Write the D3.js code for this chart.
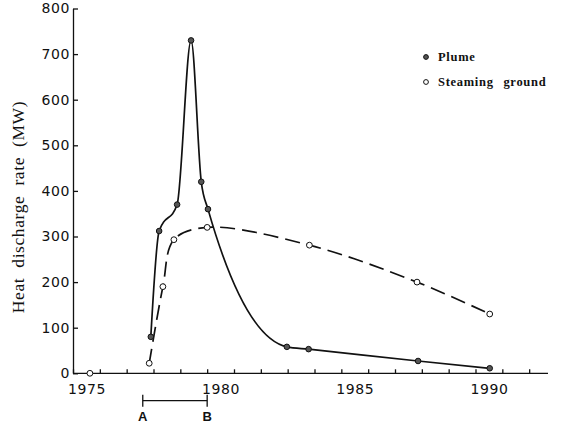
<!DOCTYPE html>
<html>
<head>
<meta charset="utf-8">
<script src="https://cdn.jsdelivr.net/npm/d3@7"></script>
<style>
  body { margin: 0; background: #fff; }
  svg { display: block; }
</style>
</head>
<body>
<div id="chart"></div>
<script>
// values
const plumeYears  = [1977.90, 1978.21, 1978.88, 1979.40, 1979.78, 1980.03, 1982.97, 1983.78, 1987.86, 1990.53];
const plumeValues = [80, 312, 370, 730, 420, 360, 58, 53, 27, 11];
const steamYears  = [1975.63, 1977.84, 1978.35, 1978.76, 1980.00, 1983.81, 1987.82, 1990.53];
const steamValues = [0, 22, 190, 293, 320, 281, 200, 130];
const yTicks = [0, 100, 200, 300, 400, 500, 600, 700, 800];
const xTicks = d3.range(1975, 1993);
const xLabels = [1975, 1980, 1985, 1990];
const periodAB = [1977.6, 1980.0];
const legendItems = ["Plume", "Steaming ground"];

const width = 561, height = 426;

const x = d3.scaleLinear().domain([1975, 1990]).range([73, 475.5]);
const y = d3.scaleLinear().domain([0, 800]).range([373.3, 8.5]);

const svg = d3.select("#chart").append("svg")
	.attr("width", width)
	.attr("height", height);

const plume = plumeYears.map((d, i) => ({year: d, value: plumeValues[i]}));
const steam = steamYears.map((d, i) => ({year: d, value: steamValues[i]}));

//y axis, ticks pointing inward
const yAxis = svg.append("g")
	.attr("transform", "translate(" + x(1975) + ",0)")
	.call(d3.axisLeft(y).tickValues(yTicks).tickSize(-5).tickSizeOuter(0).tickPadding(3));

//x axis, yearly ticks, labels sit in the middle of the year
const halfYear = (x(1976) - x(1975)) / 2;
const xAxis = svg.append("g")
	.attr("transform", "translate(0," + y(0) + ")")
	.call(d3.axisBottom(x).tickValues(xTicks).tickSize(-4).tickSizeOuter(0).tickPadding(6)
		.tickFormat(d => xLabels.includes(d) ? d : ""));
xAxis.select(".domain").attr("d", "M" + x(1975) + ",0H548");
xAxis.selectAll("text").attr("dx", halfYear).attr("dy", "1.05em");

[yAxis, xAxis].forEach(a => {
	a.selectAll(".domain, line").attr("stroke", "#111").attr("stroke-width", 1.3);
	a.selectAll("text")
		.attr("font-family", "DejaVu Sans, sans-serif")
		.attr("font-size", 14)
		.attr("letter-spacing", 0.6)
		.attr("fill", "#111");
});

//y label
svg.append("text")
	.attr("transform", "translate(24," + 207 + ") rotate(-90)")
	.attr("text-anchor", "middle")
	.attr("font-family", "Liberation Serif, serif")
	.attr("font-size", 17.5)
	.attr("letter-spacing", 0.6)
	.attr("word-spacing", 5)
	.attr("fill", "#111")
	.text("Heat discharge rate (MW)");

//curves
const line = d3.line()
	.x(d => x(d.year))
	.y(d => y(d.value));

svg.append("path")
	.datum(plume)
	.attr("fill", "none")
	.attr("stroke", "#111")
	.attr("stroke-width", 1.7)
	.attr("d", line.curve(d3.curveMonotoneX));

svg.append("path")
	.datum(steam.slice(1))
	.attr("fill", "none")
	.attr("stroke", "#111")
	.attr("stroke-width", 1.7)
	.attr("stroke-dasharray", "15,7")
	.attr("d", line.curve(d3.curveCatmullRom.alpha(0.5)));

//points
svg.selectAll("circle.plume")
	.data(plume)
	.enter()
	.append("circle")
	.attr("class", "plume")
	.attr("cx", d => x(d.year))
	.attr("cy", d => y(d.value))
	.attr("r", 2.8)
	.attr("fill", "#555")
	.attr("stroke", "#111")
	.attr("stroke-width", 1);

svg.selectAll("circle.steam")
	.data(steam)
	.enter()
	.append("circle")
	.attr("class", "steam")
	.attr("cx", d => x(d.year))
	.attr("cy", d => y(d.value))
	.attr("r", 2.9)
	.attr("fill", "#fff")
	.attr("stroke", "#111")
	.attr("stroke-width", 1);

//legend
const legend = svg.append("g").attr("transform", "translate(426,57)");
legendItems.forEach((name, i) => {
	legend.append("circle")
		.attr("cx", 0)
		.attr("cy", i * 25)
		.attr("r", 2.4)
		.attr("fill", i === 0 ? "#555" : "#fff")
		.attr("stroke", "#111")
		.attr("stroke-width", 1);
	legend.append("text")
		.attr("x", 12)
		.attr("y", i * 25 + 4)
		.attr("font-family", "Liberation Serif, serif")
		.attr("font-weight", "bold")
		.attr("font-size", 12.5)
		.attr("letter-spacing", 0.7)
		.attr("word-spacing", 6)
		.attr("fill", "#111")
		.text(name);
});

//A-B period bracket
const bracketY = 400.7;
const bracket = svg.append("g").attr("stroke", "#111").attr("stroke-width", 1.3);
bracket.append("line")
	.attr("x1", x(periodAB[0])).attr("x2", x(periodAB[1]))
	.attr("y1", bracketY).attr("y2", bracketY);
periodAB.forEach(v => {
	bracket.append("line")
		.attr("x1", x(v)).attr("x2", x(v))
		.attr("y1", bracketY - 6).attr("y2", bracketY + 6);
});
svg.selectAll("text.period")
	.data(["A", "B"])
	.enter()
	.append("text")
	.attr("class", "period")
	.attr("x", (d, i) => x(periodAB[i]))
	.attr("y", 421)
	.attr("text-anchor", "middle")
	.attr("font-family", "Liberation Sans, sans-serif")
	.attr("font-weight", "bold")
	.attr("font-size", 13)
	.attr("fill", "#111")
	.text(d => d);
</script>
</body>
</html>
